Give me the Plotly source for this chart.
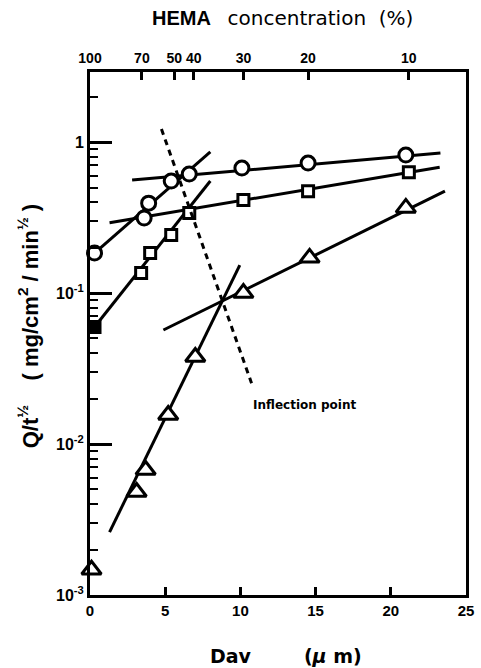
import math
import plotly.graph_objects as go

# Dav (um) and Q/t^1/2 (mg/cm2/min^1/2) for the three series
circ_dav = [0.3, 3.6, 3.9, 5.4, 6.6, 10.1, 14.5, 21.0]
circ_q = [0.184, 0.314, 0.394, 0.552, 0.614, 0.673, 0.726, 0.820]

sq_dav = [0.3, 3.4, 4.0, 5.4, 6.6, 10.2, 14.5, 21.2]
sq_q = [0.0596, 0.1355, 0.184, 0.242, 0.339, 0.413, 0.473, 0.632]

tri_dav = [0.1, 3.1, 3.7, 5.2, 7.0, 10.2, 14.6, 21.0]
tri_q = [0.00147, 0.00481, 0.00673, 0.01556, 0.0377, 0.100, 0.171, 0.366]

# fitted straight segments (two per series), end points
circ_steep_dav = [0.3, 8.0]
circ_steep_q = [0.184, 0.86]
circ_flat_dav = [2.8, 23.3]
circ_flat_q = [0.56, 0.845]

sq_steep_dav = [0.3, 8.0]
sq_steep_q = [0.0596, 0.552]
sq_flat_dav = [1.3, 23.25]
sq_flat_q = [0.292, 0.682]

tri_steep_dav = [1.3, 9.96]
tri_steep_q = [0.00261, 0.153]
tri_flat_dav = [4.88, 23.6]
tri_flat_q = [0.0569, 0.473]

# line through the inflection points
infl_dav = [4.75, 10.74]
infl_q = [1.22, 0.0253]
infl_label_dav = 10.7
infl_label_q = 0.0181

# top axis: HEMA concentration at matching Dav
hema_dav = [0.0, 3.45, 5.6, 6.9, 10.2, 14.5, 21.2]
hema_pct = ["100", "70", "50", "40", "30", "20", "10"]

x_ticks = [0, 5, 10, 15, 20, 25]
y_major = [1e-3, 1e-2, 1e-1, 1]
y_major_text = ["10<sup>-3</sup>", "10<sup>-2</sup>", "10<sup>-1</sup>", "1"]
y_minor = [m * d for d in (1e-3, 1e-2, 1e-1, 1) for m in range(2, 10)]

FONT = "Liberation Sans"
LW = 3
Y_RANGE = [-3, 0.464]

# every decade tick on the main axis (short), labels only on decades
y_all = y_major + y_minor
y_all_text = y_major_text + [""] * len(y_minor)

fig = go.Figure()

for xs, ys in [(circ_steep_dav, circ_steep_q), (circ_flat_dav, circ_flat_q),
               (sq_steep_dav, sq_steep_q), (sq_flat_dav, sq_flat_q),
               (tri_steep_dav, tri_steep_q), (tri_flat_dav, tri_flat_q)]:
    fig.add_trace(go.Scatter(x=xs, y=ys, mode="lines",
                             line=dict(color="black", width=LW),
                             showlegend=False, hoverinfo="skip"))

# dashed inflection line, drawn on the overlay axes so they get rendered
fig.add_trace(go.Scatter(x=infl_dav, y=infl_q, mode="lines", xaxis="x2", yaxis="y2",
                         line=dict(color="black", width=3, dash="6px,5px"),
                         showlegend=False, hoverinfo="skip"))

fig.add_trace(go.Scatter(x=circ_dav, y=circ_q, mode="markers", cliponaxis=False,
                         marker=dict(symbol="circle", size=14, color="white",
                                     line=dict(color="black", width=3)),
                         showlegend=False))
fig.add_trace(go.Scatter(x=sq_dav, y=sq_q, mode="markers", cliponaxis=False,
                         marker=dict(symbol="square", size=11,
                                     color=["black"] + ["white"] * (len(sq_dav) - 1),
                                     line=dict(color="black", width=3)),
                         showlegend=False))
fig.add_trace(go.Scatter(x=tri_dav, y=tri_q, mode="markers", cliponaxis=False,
                         marker=dict(symbol="triangle-up", size=17, color="white",
                                     line=dict(color="black", width=3)),
                         showlegend=False))

fig.add_annotation(x=infl_label_dav, y=math.log10(infl_label_q), xref="x", yref="y",
                   text="Inflection point", showarrow=False, xanchor="left",
                   yanchor="middle",
                   font=dict(family="DejaVu Sans", size=12, color="black", weight="bold"))

fig.add_annotation(xref="paper", yref="paper", showarrow=False,
                   text="Q/t<sup>½</sup>    ( mg/cm<sup>2</sup> / min<sup>½</sup> )",
                   textangle=-90, xanchor="center", yanchor="middle",
                   x=-63 / 384, y=(595 - 326) / 523,
                   font=dict(family=FONT, size=22, color="black", weight="bold"))

fig.add_annotation(xref="paper", yref="paper", showarrow=False,
                   text="<b>HEMA</b>   <span style='font-family:DejaVu Sans'>concentration  (%)</span>",
                   xanchor="center", yanchor="middle",
                   x=(287 - 90) / 384, y=(595 - 18) / 523,
                   font=dict(family=FONT, size=20, color="black"))

fig.add_annotation(xref="paper", yref="paper", showarrow=False,
                   text="Dav        (<i>μ</i> m)",
                   xanchor="center", yanchor="middle",
                   x=(290 - 90) / 384, y=(595 - 656) / 523,
                   font=dict(family="DejaVu Sans", size=19, color="black", weight="bold"))

axis_common = dict(showline=True, linecolor="black", linewidth=LW,
                   ticks="inside", tickcolor="black", showgrid=False,
                   zeroline=False)

fig.update_layout(
    width=481, height=668,
    margin=dict(l=90, r=7, t=72, b=73),
    paper_bgcolor="white", plot_bgcolor="white",
    xaxis=dict(range=[0, 25], tickvals=x_ticks, ticklen=8, tickwidth=3,
               tickfont=dict(family=FONT, size=15, color="black", weight="bold"),
               **axis_common),
    xaxis2=dict(range=[0, 25], overlaying="x", side="top", tickvals=hema_dav,
                ticktext=hema_pct, ticklen=8, tickwidth=3,
                tickfont=dict(family=FONT, size=14, color="black", weight="bold"),
                **axis_common),
    yaxis=dict(type="log", range=Y_RANGE, tickvals=y_all,
               ticktext=y_all_text, ticklen=8, tickwidth=2, mirror=True,
               tickfont=dict(family=FONT, size=16, color="black", weight="bold"),
               **axis_common),
    yaxis2=dict(type="log", range=Y_RANGE, overlaying="y", side="left",
                tickvals=y_major, showticklabels=False, ticks="inside",
                ticklen=22, tickwidth=3, tickcolor="black", showline=False,
                showgrid=False, zeroline=False),
)

fig.write_html("out.html")
